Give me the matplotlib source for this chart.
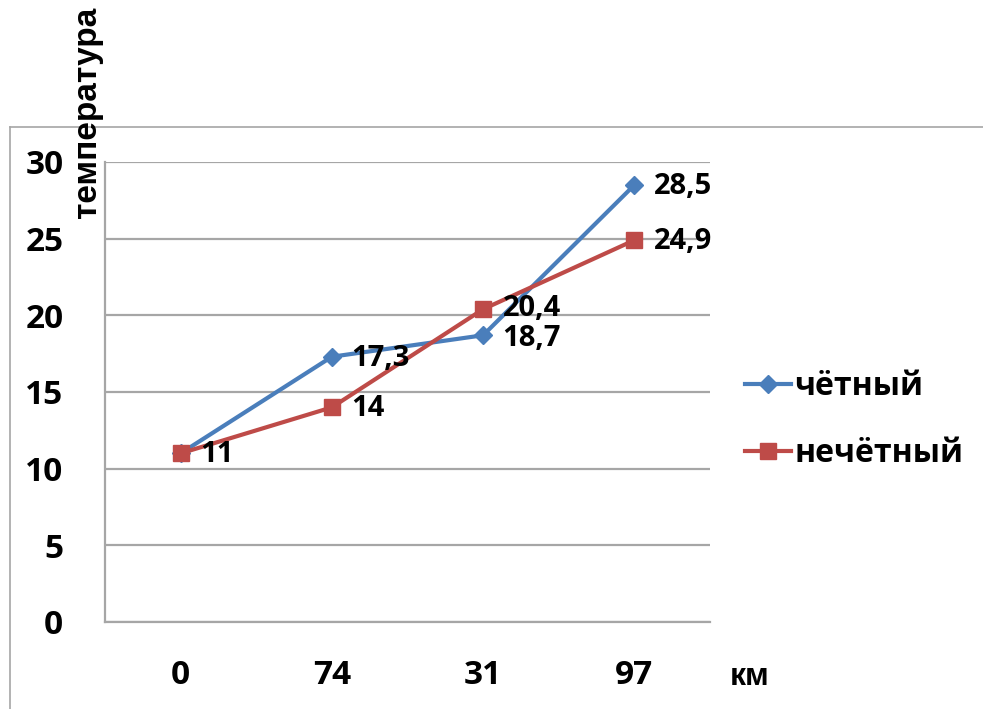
import matplotlib
matplotlib.use("Agg")
import matplotlib.pyplot as plt
from matplotlib.lines import Line2D

# Data
categories = ["0", "74", "31", "97"]
even_vals = [11, 17.3, 18.7, 28.5]
odd_vals = [11, 14, 20.4, 24.9]
series_names = ["чётный", "нечётный"]
yticks = [0, 5, 10, 15, 20, 25, 30]

BLUE = "#4A7EBB"
RED = "#BE4B48"
GRID = "#A6A6A6"
NUM_FONT = "Open Sans"
CYR_FONT = "Open Sans"

W, H = 983, 709
fig = plt.figure(figsize=(W / 100, H / 100), dpi=100)
fig.patch.set_facecolor("white")

# outer chart border (top and left edges)
fig.add_artist(Line2D([10 / W, 1.0], [1 - 127 / H, 1 - 127 / H],
                      transform=fig.transFigure, color=GRID, lw=1.2))
fig.add_artist(Line2D([10 / W, 10 / W], [0.0, 1 - 127 / H],
                      transform=fig.transFigure, color=GRID, lw=1.2))

ax = fig.add_axes([105 / W, (H - 622) / H, 605 / W, 460 / H])
x = list(range(len(categories)))

ax.plot(x, even_vals, color=BLUE, lw=3, marker="D", ms=9,
        label=series_names[0], zorder=3)
ax.plot(x, odd_vals, color=RED, lw=3, marker="s", ms=11,
        label=series_names[1], zorder=4)

# value labels to the right of each point; close pairs are spread apart a bit
for i, (e, o) in enumerate(zip(even_vals, odd_vals)):
    spread = 1.5 if 0 < abs(e - o) < 2.5 else 0.0
    pairs = []
    if e != o:
        pairs.append((e, 5, spread if e > o else -spread))
    pairs.append((o, 6, spread if o > e else -spread))
    for v, z, dy in pairs:
        txt = f"{v:g}".replace(".", ",")
        ax.annotate(txt, (i, v), xytext=(14, -1 + dy),
                    textcoords="offset points", ha="left", va="center",
                    fontsize=21, fontweight="bold", family=NUM_FONT,
                    color="black", zorder=z)

ax.set_xlim(-0.5, len(categories) - 0.5)
ax.set_ylim(0, 30)
ax.set_yticks(yticks)
ax.set_xticks(x)
ax.set_xticklabels(categories)
ax.yaxis.grid(True, color=GRID, lw=1.6)
ax.set_axisbelow(True)
for side in ["top", "right"]:
    ax.spines[side].set_visible(False)
for side in ["left", "bottom"]:
    ax.spines[side].set_color(GRID)
    ax.spines[side].set_linewidth(1.6)
ax.tick_params(length=0)
ax.tick_params(axis="y", pad=30)
ax.tick_params(axis="x", pad=27)
for lab in ax.get_xticklabels() + ax.get_yticklabels():
    lab.set_fontfamily(NUM_FONT)
    lab.set_fontweight("bold")
    lab.set_fontsize(24)

leg = ax.legend(loc="center left", bbox_to_anchor=(745 / W, 1 - 420 / H),
                bbox_transform=fig.transFigure, frameon=False, borderpad=0,
                borderaxespad=0, handlelength=1.45, handletextpad=0.1,
                labelspacing=1.05,
                prop={"family": CYR_FONT, "weight": "bold", "size": 23})

fig.text(87 / W, 1 - 112 / H, "температура", rotation=90, ha="center",
         va="center", family="Liberation Sans", fontweight="bold", fontsize=24)
fig.text(750 / W, 1 - 677 / H, "км", ha="center", va="center",
         family="Liberation Sans", fontweight="bold", fontsize=23)

fig.savefig("out.png", dpi=100, facecolor="white")
